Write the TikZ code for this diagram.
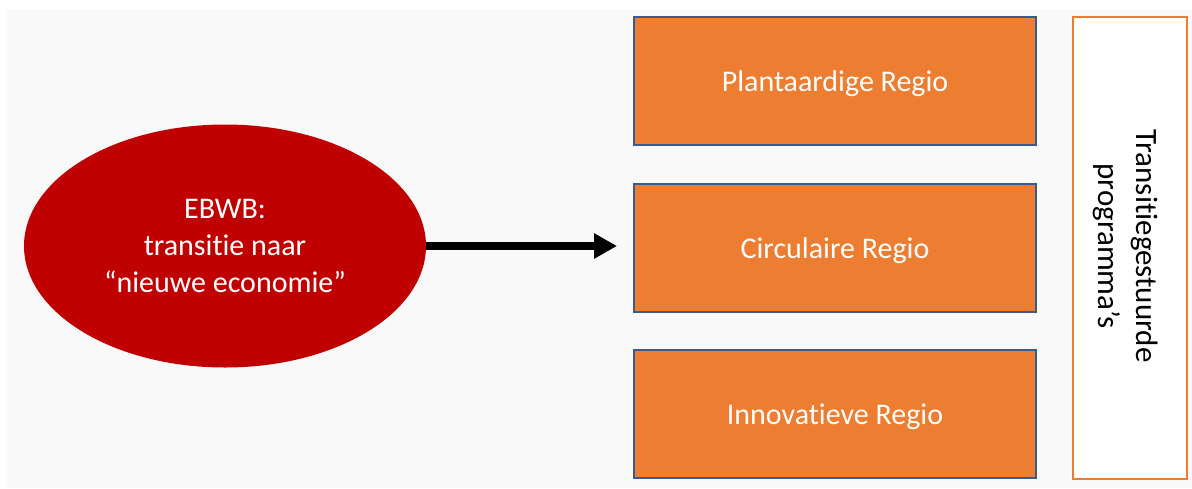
\documentclass[tikz,border=0pt]{standalone}
\usepackage{fontspec}
\setmainfont{Carlito}[Ligatures=NoCommon]
\usetikzlibrary{shapes.geometric,arrows.meta}
\definecolor{bg}{HTML}{F9F9F9}
\definecolor{ebred}{HTML}{C00000}
\definecolor{ororange}{HTML}{ED7D31}
\definecolor{boxblue}{HTML}{3A5A8C}
\tikzset{
  regiobox/.style={rectangle, draw=boxblue, line width=0.7pt, fill=ororange,
    minimum width=201pt, minimum height=64pt, inner sep=0pt, text depth=0pt,
    text=white, font=\fontsize{15}{18.3}\selectfont},
  mainellipse/.style={ellipse, fill=ebred, minimum width=201pt, minimum height=121.5pt,
    inner sep=0pt, text=white, align=center, font=\fontsize{15}{18.3}\selectfont},
  sidebox/.style={rectangle, draw=ororange, line width=1pt, fill=white,
    minimum width=57pt, minimum height=231pt, inner sep=0pt},
  bigarrow/.style={line width=4pt, -{Triangle[length=11.5pt,width=12pt]}}
}
\begin{document}
\begin{tikzpicture}[x=0.5pt,y=-0.5pt]
\useasboundingbox (0,0) rectangle (1192,488);
\fill[white] (0,0) rectangle (1192,488);
\fill[bg] (7,9) rectangle (1192,488);
\node[mainellipse] (e) at (225,246) {EBWB:\\transitie naar\\“nieuwe economie”};
\node[regiobox] (b1) at (835,81) {Plantaardige Regio};
\node[regiobox] (b2) at (835,248) {Circulaire Regio};
\node[regiobox] (b3) at (835,414) {Innovatieve Regio};
\node[sidebox] (s) at (1129.5,248) {};
\node[rotate=-90, align=center, font=\fontsize{15.5}{19}\selectfont, inner sep=0pt] (st) at (1126,246) {Transitiegestuurde\\programma’s};
\coordinate (tip) at (617,246);
\draw[bigarrow] (e.east) -- (tip);
\end{tikzpicture}
\end{document}
